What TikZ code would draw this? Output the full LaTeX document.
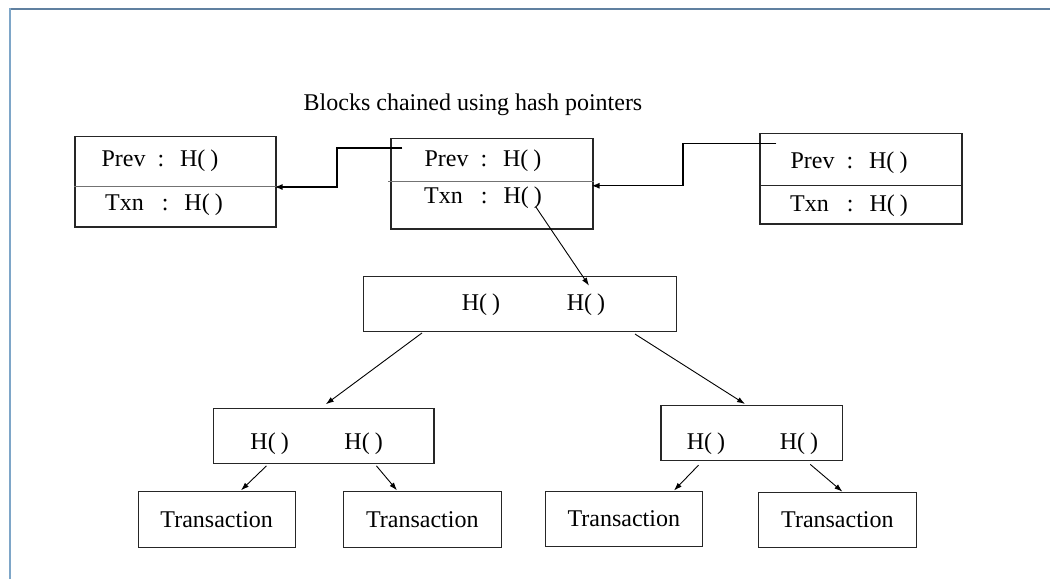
\documentclass[tikz,border=0pt]{standalone}
\usepackage{fontspec}
\setmainfont{Liberation Serif}
\usetikzlibrary{arrows.meta}
\definecolor{frametop}{RGB}{96,128,160}
\definecolor{frameleft}{RGB}{126,166,200}
\begin{document}
\begin{tikzpicture}[x=1pt,y=-1pt,
  every node/.style={font=\fontsize{24}{28}\selectfont, inner sep=0pt},
  box/.style={draw=black!85, line width=1.1pt, rectangle},
  divider/.style={draw=black!55, line width=1.3pt},
  ptr/.style={draw=black, line width=0.9pt, -{Latex[length=8pt,width=5.5pt]}},
  chain/.style={draw=black, line width=1.4pt, -{Latex[length=8pt,width=6pt]}}]
\useasboundingbox (0,0) rectangle (1050,579);
\fill[white] (0,0) rectangle (1050,579);
% page frame
\draw[line width=2pt, frametop] (9,9) -- (1050,9);
\draw[line width=2.2pt, frameleft] (10,579) -- (10,8);

% title
\node (title) at (473,105) {Blocks chained using hash pointers};

% the three blocks of the chain
\node[box, minimum width=201pt, minimum height=90.4pt] (b1) at (175.5,181.8) {};
\node[box, minimum width=202pt, minimum height=90.5pt] (b2) at (492,183.75) {};
\node[box, minimum width=202pt, minimum height=90.3pt] (b3) at (861,178.85) {};
\draw[divider] ([yshift=-4.7pt]b1.west) -- ([yshift=-4.7pt]b1.east);
\draw[divider] ([xshift=-2pt,yshift=2pt]b2.west) -- ([yshift=2pt]b2.east);
\draw[divider, draw=black!85] ([yshift=-6.5pt]b3.west) -- ([yshift=-6.5pt]b3.east);

\node (b1p) at (160,160.6) {Prev\hspace{12pt}:\hspace{16pt}H(\hspace{5pt})};
\node (b1t) at (164,205) {Txn\hspace{18pt}:\hspace{16pt}H(\hspace{5pt})};
\node (b2p) at (483,160.6) {Prev\hspace{12pt}:\hspace{16pt}H(\hspace{5pt})};
\node (b2t) at (483,198) {Txn\hspace{18pt}:\hspace{16pt}H(\hspace{5pt})};
\node (b3p) at (849,162.5) {Prev\hspace{12pt}:\hspace{16pt}H(\hspace{5pt})};
\node (b3t) at (849,205.7) {Txn\hspace{18pt}:\hspace{16pt}H(\hspace{5pt})};

% hash pointers between blocks
\draw[chain] ([xshift=12pt,yshift=-9.9pt]b2.north west) -- ++(-65.5,0)
  |- ([xshift=-2pt,yshift=-5.2pt]b1.east);
\draw[chain] ([xshift=17pt,yshift=-10.3pt]b3.north west) -- ++(-93.3,0)
  |- ([xshift=-2pt,yshift=-2pt]b2.east);

% Merkle tree
\node[box, minimum width=312.8pt, minimum height=55.4pt] (root) at (520,303.9) {};
\node (rootl) at (481,304.7) {H(\hspace{5pt})};
\node (rootr) at (586,304.7) {H(\hspace{5pt})};

\node[box, minimum width=220.4pt, minimum height=55pt] (ml) at (323.8,436.3) {};
\node (mll) at (269.6,444) {H(\hspace{5pt})};
\node (mlr) at (363.6,444) {H(\hspace{5pt})};

\node[box, minimum width=181.4pt, minimum height=55.3pt] (mr) at (751.7,433.2) {};
\node (mrl) at (706,444) {H(\hspace{5pt})};
\node (mrr) at (799,444) {H(\hspace{5pt})};

\node[box, minimum width=157.3pt, minimum height=55.4pt] (t1) at (216.7,519.6) {Transaction};
\node[box, minimum width=157.5pt, minimum height=55.4pt] (t2) at (422.3,519.6) {Transaction};
\node[box, minimum width=157.5pt, minimum height=55.4pt] (t3) at (623.8,518.8) {Transaction};
\node[box, minimum width=157.3pt, minimum height=55.4pt] (t4) at (837.4,519.9) {Transaction};

% pointers down the tree
\draw[ptr] ([xshift=43.7pt,yshift=-23pt]b2.center) -- ([xshift=69pt,yshift=-10pt]root.north);
\draw[ptr] ([xshift=-98pt,yshift=-0.8pt]root.south) -- ([xshift=2pt,yshift=4pt]ml.north);
\draw[ptr] ([xshift=115pt,yshift=-1.9pt]root.south) -- ([xshift=-6.7pt,yshift=1pt]mr.north);
\draw[ptr] ([xshift=-57.3pt,yshift=-1.5pt]ml.south) -- ([xshift=24.3pt,yshift=1pt]t1.north);
\draw[ptr] ([xshift=52.6pt,yshift=-1.5pt]ml.south) -- ([xshift=-25.3pt,yshift=1pt]t2.north);
\draw[ptr] ([xshift=-53.2pt,yshift=-3.8pt]mr.south) -- ([xshift=50.2pt,yshift=0pt]t3.north);
\draw[ptr] ([xshift=58.6pt,yshift=-3pt]mr.south) -- ([xshift=5pt,yshift=0pt]t4.north);
\end{tikzpicture}
\end{document}
